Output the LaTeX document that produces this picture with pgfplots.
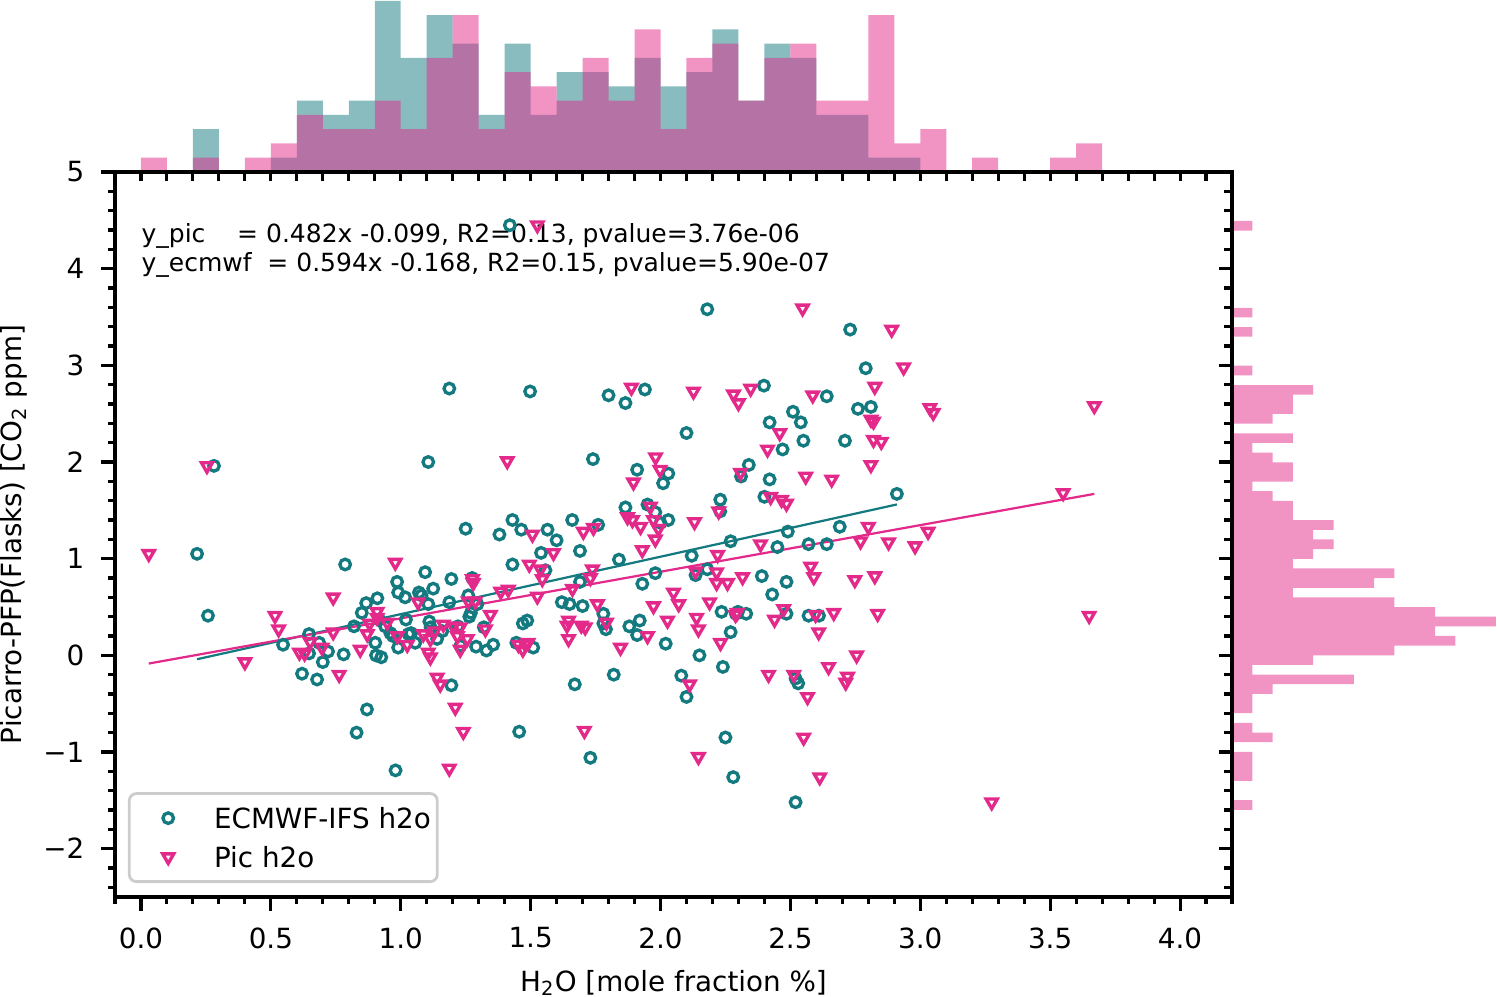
\documentclass[border=0pt]{standalone}
\usepackage{fontspec}
\setmainfont{DejaVu Sans}
\usepackage{pgfplots}
\pgfplotsset{compat=1.18}
\definecolor{tealc}{RGB}{19,122,128}
\definecolor{pinkc}{RGB}{227,41,137}
\pgfplotsset{mylegimg/.style={legend image code/.code={\path[draw=none,fill=none] (0pt,-1pt) rectangle (28.2pt,1pt); \draw[##1] plot[only marks] coordinates {(13.7pt,0pt)};}}}

\begin{document}
\fontsize{10}{12}\selectfont
\begin{tikzpicture}[x=1pt,y=1pt]
\path[use as bounding box] (0,0) rectangle (538.92,358.92);

% ---------------- top histogram (x values) ----------------
\begin{axis}[at={(41.4pt,297pt)}, anchor=south west, scale only axis,
  width=402.12pt, height=61.92pt, xmin=-0.1, xmax=4.2, ymin=0, ymax=12.07, hide axis]
\addplot[ybar interval, fill=tealc, fill opacity=0.5, draw=none] coordinates {
(0.0,0) (0.1,0) (0.2,3) (0.3,0) (0.4,0) (0.5,1) (0.6,5) (0.7,4) (0.8,5) (0.9,12)
(1.0,8) (1.1,11) (1.2,9) (1.3,4) (1.4,9) (1.5,4) (1.6,7) (1.7,7) (1.8,6) (1.9,8)
(2.0,6) (2.1,7) (2.2,10) (2.3,5) (2.4,9) (2.5,8) (2.6,4) (2.7,4) (2.8,1) (2.9,1) (3.0,0)};
\addplot[ybar interval, fill=pinkc, fill opacity=0.5, draw=none] coordinates {
(0.0,1) (0.1,0) (0.2,1) (0.3,0) (0.4,1) (0.5,2) (0.6,4) (0.7,3) (0.8,3) (0.9,5)
(1.0,3) (1.1,8) (1.2,11) (1.3,3) (1.4,7) (1.5,6) (1.6,5) (1.7,8) (1.8,5) (1.9,10)
(2.0,3) (2.1,8) (2.2,9) (2.3,5) (2.4,8) (2.5,9) (2.6,5) (2.7,5) (2.8,11) (2.9,2)
(3.0,3) (3.1,0) (3.2,1) (3.3,0) (3.4,0) (3.5,1) (3.6,2) (3.7,0)};
\end{axis}

% ---------------- right histogram (y values) ----------------
\begin{axis}[at={(443.52pt,36pt)}, anchor=south west, scale only axis,
  width=95.4pt, height=261pt, xmin=0, xmax=13.05, ymin=-2.5, ymax=5, hide axis]
\addplot[xbar interval, fill=pinkc, fill opacity=0.5, draw=none] coordinates {
(1,-1.598) (0,-1.498) (0,-1.398) (1,-1.298) (1,-1.198) (1,-1.098) (0,-0.998) (2,-0.899)
(1,-0.799) (0,-0.699) (1,-0.599) (1,-0.499) (2,-0.399) (6,-0.299) (1,-0.199) (4,-0.100)
(8,0.000) (11,0.100) (10,0.200) (13,0.300) (10,0.400) (8,0.499) (3,0.599) (7,0.699)
(8,0.799) (3,0.899) (4,0.999) (5,1.099) (4,1.199) (5,1.298) (3,1.398) (3,1.498)
(2,1.598) (1,1.698) (3,1.798) (3,1.898) (2,1.997) (1,2.097) (3,2.197) (0,2.297)
(2,2.397) (3,2.497) (3,2.597) (4,2.696) (0,2.796) (1,2.896) (0,2.996) (0,3.096)
(0,3.196) (1,3.296) (0,3.395) (1,3.495) (0,3.595) (0,3.695) (0,3.795) (0,3.895)
(0,3.995) (0,4.094) (0,4.194) (0,4.294) (1,4.394) (0,4.494)};
\end{axis}

% ---------------- main scatter ----------------
\begin{axis}[at={(41.4pt,36pt)}, anchor=south west, scale only axis,
  width=402.12pt, height=261pt,
  xmin=-0.1, xmax=4.2, ymin=-2.5, ymax=5,
  xtick={0,0.5,1,1.5,2,2.5,3,3.5,4},
  xticklabels={0.0,0.5,1.0,1.5,2.0,2.5,3.0,3.5,4.0},
  ytick={-2,-1,0,1,2,3,4,5},
  yticklabels={−2,−1,0,1,2,3,4,5},
  minor xtick={-0.1,0,...,4.2},
  minor ytick={-2.4,-2.2,...,4.8},
  xtick pos=left, ytick pos=left, tick align=outside,
  major tick length=5pt, minor tick length=2.6pt,
  tick style={line width=1.1pt, black},
  axis line style={line width=1.1pt},
  tick label style={font=\fontsize{10}{12}\selectfont},
  xticklabel style={yshift=-2.5pt},
  yticklabel style={xshift=-2.5pt},
  xlabel={H\textsubscript{2}O [mole fraction \%]},
  ylabel={Picarro-PFP(Flasks) [CO\textsubscript{2} ppm]},
  label style={font=\fontsize{10}{12}\selectfont},
  xlabel style={at={(axis description cs:0.5,-0.1186)}, anchor=center},
  ylabel style={at={(axis description cs:-0.0905,0.5)}, anchor=center},
  legend cell align=left,
  legend style={at={(axis description cs:0.0116,0.0193)}, anchor=south west,
    draw=black!20, line width=1pt, rounded corners=2.5pt, fill=white, fill opacity=0.8, text opacity=1,
    font=\fontsize{10}{12}\selectfont, inner xsep=0.3pt, inner ysep=3.1pt, row sep=2.5pt,
    nodes={inner ysep=1pt, text height=8.4pt, text depth=1.1pt}},
]
\addplot[only marks, color=tealc, mark=o, mark size=1.9pt, mark options={line width=1.2pt}, mylegimg] coordinates {
(0.216,1.05) (0.258,0.41) (0.281,1.96) (0.547,0.11) (0.62,-0.19) (0.647,0.22) (0.678,-0.25) (0.686,0.13)
(0.647,0.02) (0.70,-0.07) (0.72,0.04) (0.786,0.94) (0.78,0.01) (0.83,-0.80) (0.867,0.54) (0.87,-0.56)
(0.85,0.44) (0.82,0.30) (0.91,0.59) (0.905,0.0) (0.925,-0.02) (0.917,0.37) (0.96,0.23) (0.98,-1.19)
(0.986,0.76) (0.99,0.08) (0.99,0.65) (0.902,0.13) (0.94,0.30) (0.97,0.20) (1.017,0.60) (1.02,0.37)
(1.04,0.23) (1.056,0.13) (1.08,0.62) (1.094,0.86) (1.07,0.65) (1.03,0.22) (1.106,2.00) (1.106,0.53)
(1.11,0.35) (1.115,0.29) (1.125,0.69) (1.14,0.17) (1.187,2.76) (1.187,0.55) (1.195,0.79) (1.195,-0.31)
(1.16,0.25) (1.22,0.30) (1.25,1.31) (1.27,0.44) (1.275,0.80) (1.29,0.09) (1.295,0.53) (1.264,0.40)
(1.23,0.10) (1.26,0.62) (1.32,0.29) (1.33,0.05) (1.356,0.11) (1.38,1.25) (1.42,4.45) (1.43,1.40)
(1.43,0.94) (1.445,0.13) (1.456,-0.79) (1.464,1.30) (1.47,0.33) (1.487,0.36) (1.498,2.73) (1.51,0.08)
(1.54,1.06) (1.557,0.88) (1.565,1.30) (1.60,1.19) (1.62,0.55) (1.65,0.53) (1.66,1.40) (1.67,-0.30)
(1.69,1.08) (1.69,0.76) (1.70,0.51) (1.73,-1.06) (1.74,2.03) (1.76,1.35) (1.78,0.43) (1.78,0.33)
(1.79,0.27) (1.80,2.69) (1.82,-0.20) (1.84,0.99) (1.865,2.61) (1.865,1.53) (1.88,0.30) (1.91,0.21)
(1.92,0.36) (1.91,1.92) (1.93,0.74) (1.94,2.75) (1.95,1.56) (1.98,1.48) (1.98,0.85) (2.00,1.37)
(2.01,1.78) (2.02,0.12) (2.03,1.88) (2.03,1.40) (2.08,-0.21) (2.10,-0.43) (2.10,2.30) (2.12,1.03)
(2.135,0.83) (2.15,0.0) (2.18,3.58) (2.18,0.89) (2.23,1.61) (2.23,1.49) (2.235,0.45) (2.24,-0.12)
(2.25,-0.85) (2.27,1.18) (2.27,0.24) (2.28,-1.26) (2.29,0.43) (2.298,0.45) (2.31,1.85) (2.33,0.43)
(2.34,1.97) (2.39,0.82) (2.398,2.79) (2.40,1.64) (2.42,1.82) (2.42,2.41) (2.45,1.12) (2.47,2.13)
(2.485,0.76) (2.49,1.28) (2.485,0.43) (2.43,0.63) (2.51,2.52) (2.52,-1.52) (2.52,-0.24) (2.53,-0.29)
(2.54,2.41) (2.55,2.22) (2.57,1.15) (2.57,0.41) (2.61,0.41) (2.64,2.68) (2.64,1.15) (2.69,1.33)
(2.71,2.22) (2.73,3.37) (2.76,2.55) (2.79,2.97) (2.81,2.57) (2.91,1.67)};
\addlegendentry{ECMWF-IFS h2o}
\addplot[only marks, color=pinkc, mark=triangle, mark size=2.3pt, mark options={rotate=180, line width=1.2pt}, mylegimg] coordinates {
(0.03,1.05) (0.254,1.96) (0.40,-0.07) (0.516,0.41) (0.53,0.27) (0.61,0.03) (0.63,0.02) (0.651,0.14)
(0.697,0.08) (0.74,0.24) (0.74,0.60) (0.763,-0.20) (0.844,0.06) (0.871,0.22) (0.88,0.33) (0.909,0.45)
(0.909,0.39) (0.948,0.34) (0.987,0.20) (0.979,0.96) (1.025,0.11) (1.067,0.55) (1.087,0.22) (1.114,0.17)
(1.106,0.03) (1.114,-0.02) (1.14,-0.23) (1.152,-0.30) (1.164,0.32) (1.187,-1.17) (1.13,0.25) (1.202,0.30)
(1.218,0.20) (1.229,0.29) (1.256,0.17) (1.229,0.06) (1.21,-0.54) (1.241,-0.79) (1.276,0.79) (1.279,0.75)
(1.26,0.56) (1.287,0.56) (1.345,0.42) (1.326,0.27) (1.385,0.66) (1.41,2.01) (1.414,0.68) (1.453,0.11)
(1.48,0.11) (1.49,0.13) (1.47,0.06) (1.495,0.94) (1.526,4.45) (1.507,1.25) (1.538,0.89) (1.545,0.79)
(1.526,0.61) (1.588,1.06) (1.661,0.69) (1.646,0.36) (1.64,0.31) (1.646,0.17) (1.695,0.31) (1.703,1.28)
(1.742,1.32) (1.738,0.89) (1.73,0.80) (1.757,0.53) (1.707,-0.78) (1.71,0.29) (1.792,0.34) (1.846,0.08)
(1.873,1.43) (1.892,1.40) (1.888,2.77) (1.896,1.79) (1.961,1.54) (1.973,1.40) (1.923,1.33) (1.992,1.31)
(1.98,1.20) (1.93,1.09) (1.981,2.05) (1.95,0.20) (1.973,0.51) (1.998,1.92) (2.027,0.36) (2.07,0.53)
(2.05,0.65) (2.127,2.73) (2.131,1.38) (2.139,0.39) (2.146,0.27) (2.189,0.55) (2.135,0.87) (2.112,-0.30)
(2.146,-1.05) (2.224,1.49) (2.22,1.04) (2.231,0.13) (2.289,0.42) (2.295,0.44) (2.216,0.86) (2.216,0.75)
(2.258,0.75) (2.281,2.70) (2.30,2.61) (2.347,2.76) (2.308,1.89) (2.385,1.15) (2.316,0.81) (2.459,2.30)
(2.412,2.13) (2.424,1.64) (2.466,1.61) (2.485,1.57) (2.474,0.48) (2.439,0.37) (2.416,-0.20) (2.547,3.59)
(2.586,2.69) (2.559,1.85) (2.578,0.92) (2.59,0.81) (2.597,0.42) (2.513,-0.20) (2.566,-0.43) (2.551,-0.85)
(2.659,1.82) (2.667,0.44) (2.609,0.24) (2.647,-0.12) (2.613,-1.26) (2.77,1.18) (2.748,0.78) (2.755,0.00)
(2.72,-0.22) (2.713,-0.28) (2.825,2.78) (2.81,2.44) (2.82,2.42) (2.82,2.23) (2.85,2.21) (2.81,1.97)
(2.80,1.33) (2.878,1.17) (2.825,0.82) (2.836,0.43) (2.89,3.37) (2.936,2.98) (2.98,1.13) (3.037,2.56)
(3.05,2.51) (3.03,1.28) (3.275,-1.52) (3.55,1.68) (3.67,2.58) (3.65,0.41)};
\addlegendentry{Pic h2o}
\addplot[forget plot, tealc, line width=0.8pt] coordinates {(0.216,-0.040) (2.91,1.561)};
\addplot[forget plot, pinkc, line width=0.8pt] coordinates {(0.03,-0.085) (3.67,1.670)};
\node[anchor=base west, font=\fontsize{9}{10.8}\selectfont, inner sep=0pt] at (axis description cs:0.0233,0.9034)
  {y\_pic\hspace{1.272em}= 0.482x -0.099, R2=0.13, pvalue=3.76e-06};
\node[anchor=base west, font=\fontsize{9}{10.8}\selectfont, inner sep=0pt] at (axis description cs:0.0233,0.8634)
  {y\_ecmwf\hspace{0.636em}= 0.594x -0.168, R2=0.15, pvalue=5.90e-07};
\end{axis}

% ---------------- ticks on top edge (pointing down) ----------------
\begin{axis}[at={(41.4pt,36pt)}, anchor=south west, scale only axis,
  width=402.12pt, height=261pt, xmin=-0.1, xmax=4.2, ymin=-2.5, ymax=5,
  axis line style={draw=none}, xtick={-0.1,0,...,4.2}, xticklabel=\empty,
  xtick pos=right, ytick=\empty, tick align=inside, major tick length=3.3pt,
  tick style={line width=1.1pt, black}]
\end{axis}

% ---------------- ticks on right edge (pointing left) ----------------
\begin{axis}[at={(41.4pt,36pt)}, anchor=south west, scale only axis,
  width=402.12pt, height=261pt, xmin=-0.1, xmax=4.2, ymin=-2.5, ymax=5,
  axis line style={draw=none}, xtick=\empty, ytick={-2,-1,0,1,2,3,4,5},
  minor ytick={-2.4,-2.2,...,4.8}, yticklabel=\empty,
  ytick pos=right, tick align=inside, major tick length=4.5pt, minor tick length=2.8pt,
  tick style={line width=1.1pt, black}]
\end{axis}
\end{tikzpicture}
\end{document}
